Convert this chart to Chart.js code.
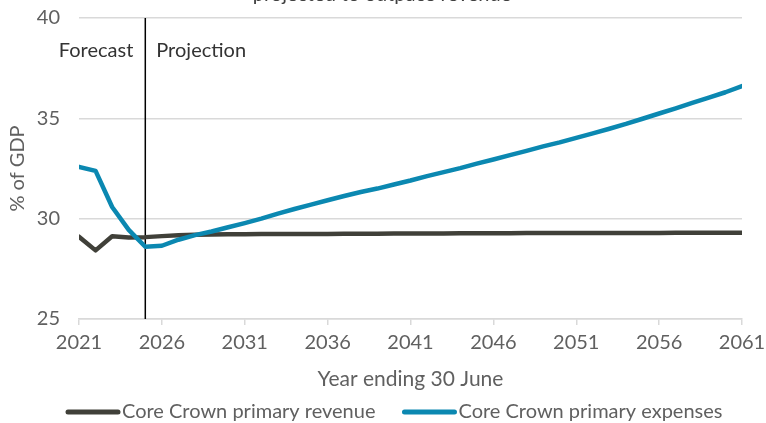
<!DOCTYPE html>
<html>
<head>
<meta charset="utf-8">
<script src="https://cdn.jsdelivr.net/npm/chart.js@4.4.1/dist/chart.umd.min.js"></script>
<style>
  html, body { margin: 0; padding: 0; background: #fff; }
</style>
</head>
<body>
<canvas id="chart" width="766" height="423"></canvas>
<script>
// Year ending 30 June
const years = [
  2021, 2022, 2023, 2024, 2025, 2026, 2027, 2028, 2029, 2030,
  2031, 2032, 2033, 2034, 2035, 2036, 2037, 2038, 2039, 2040,
  2041, 2042, 2043, 2044, 2045, 2046, 2047, 2048, 2049, 2050,
  2051, 2052, 2053, 2054, 2055, 2056, 2057, 2058, 2059, 2060,
  2061
];

// % of GDP
const revenue = [
  29.10, 28.42, 29.12, 29.06, 29.08, 29.13, 29.17, 29.20, 29.21, 29.22,
  29.22, 29.23, 29.23, 29.24, 29.24, 29.24, 29.25, 29.25, 29.25, 29.26,
  29.26, 29.26, 29.26, 29.27, 29.27, 29.27, 29.27, 29.28, 29.28, 29.28,
  29.28, 29.28, 29.29, 29.29, 29.29, 29.29, 29.30, 29.30, 29.30, 29.30,
  29.30
];

const expenses = [
  32.58, 32.38, 30.58, 29.44, 28.60, 28.65, 28.95, 29.18, 29.36, 29.57,
  29.78, 30.00, 30.25, 30.48, 30.70, 30.92, 31.13, 31.33, 31.50, 31.70,
  31.90, 32.12, 32.32, 32.52, 32.74, 32.95, 33.17, 33.38, 33.60, 33.80,
  34.03, 34.25, 34.48, 34.72, 34.98, 35.24, 35.50, 35.77, 36.03, 36.30,
  36.61
];

const xTicks = [2021, 2026, 2031, 2036, 2041, 2046, 2051, 2056, 2061];
const yTicks = [25, 30, 35, 40];
const splitYear = 2025;

const seriesNames = ['Core Crown primary revenue', 'Core Crown primary expenses'];
const seriesColors = ['#404039', '#0b88b1'];

const FONT = 'Lato, "Open Sans", sans-serif';
const GREY = '#606060';

function points(vals) {
  return years.map((yr, i) => ({ x: yr, y: vals[i] }));
}

// forecast/projection divider, cut-off heading and the legend
const extras = {
  id: 'extras',
  beforeDatasetsDraw(chart) {
    const { ctx, chartArea } = chart;
    const x = chart.scales.x.getPixelForValue(splitYear);
    ctx.save();
    ctx.strokeStyle = '#000';
    ctx.lineWidth = 1.5;
    ctx.beginPath();
    ctx.moveTo(x, chartArea.top);
    ctx.lineTo(x, chartArea.bottom);
    ctx.stroke();

    ctx.font = '20px ' + FONT;
    ctx.fillStyle = '#333';
    ctx.textBaseline = 'alphabetic';
    ctx.textAlign = 'right';
    ctx.fillText('Forecast', x - 12, 57);
    ctx.textAlign = 'left';
    ctx.fillText('Projection', x + 11, 57);
    ctx.restore();
  },
  afterDraw(chart) {
    const { ctx } = chart;
    ctx.save();
    ctx.font = '20px ' + FONT;
    ctx.fillStyle = '#404040';
    ctx.textAlign = 'center';
    ctx.textBaseline = 'alphabetic';
    ctx.fillText('projected to outpace revenue', 382, 1);

    ctx.textAlign = 'left';
    ctx.textBaseline = 'middle';
    ctx.fillStyle = GREY;
    let lx = 66;
    const ly = 412;
    seriesNames.forEach((name, i) => {
      ctx.strokeStyle = seriesColors[i];
      ctx.lineWidth = 5;
      ctx.lineCap = 'round';
      ctx.beginPath();
      ctx.moveTo(lx + 2, ly);
      ctx.lineTo(lx + 52, ly);
      ctx.stroke();
      ctx.fillText(name, lx + 56, ly);
      lx += 56 + ctx.measureText(name).width + 27;
    });
    ctx.restore();
  }
};

const ctx = document.getElementById('chart').getContext('2d');
new Chart(ctx, {
  type: 'line',
  data: {
    datasets: [
      {
        label: seriesNames[0],
        data: points(revenue),
        borderColor: seriesColors[0],
        borderWidth: 4.5,
        pointRadius: 0,
        borderJoinStyle: 'round',
        borderCapStyle: 'round',
        order: 1
      },
      {
        label: seriesNames[1],
        data: points(expenses),
        borderColor: seriesColors[1],
        borderWidth: 4.5,
        pointRadius: 0,
        borderJoinStyle: 'round',
        borderCapStyle: 'round',
        order: 0
      }
    ]
  },
  options: {
    responsive: false,
    devicePixelRatio: 1,
    animation: false,
    layout: { padding: { left: 0, right: 24, top: 18, bottom: 29 } },
    plugins: {
      legend: { display: false },
      tooltip: { enabled: false }
    },
    scales: {
      x: {
        type: 'linear',
        min: 2021,
        max: 2061,
        afterBuildTicks: (s) => { s.ticks = xTicks.map(v => ({ value: v })); },
        afterFit: (s) => {
          s.height = 75;
          s.paddingLeft = 0;
          s.paddingRight = 0;
        },
        ticks: {
          callback: (v) => String(v),
          font: { family: FONT, size: 20 },
          color: GREY,
          padding: 6,
          maxRotation: 0
        },
        grid: { drawOnChartArea: false, drawTicks: true, tickLength: 6, color: '#d9d9d9', lineWidth: 1.5 },
        border: { color: '#d9d9d9', width: 1.5 },
        title: {
          display: true,
          text: 'Year ending 30 June',
          font: { family: FONT, size: 21 },
          color: GREY,
          padding: { top: 0, bottom: 2 }
        }
      },
      y: {
        min: 25,
        max: 40,
        afterBuildTicks: (s) => { s.ticks = yTicks.map(v => ({ value: v })); },
        afterFit: (s) => {
          s.width = 79;
          s.paddingTop = 0;
          s.paddingBottom = 0;
        },
        ticks: {
          font: { family: FONT, size: 20 },
          color: GREY,
          padding: 19
        },
        grid: { drawTicks: false, color: '#d9d9d9', lineWidth: 1.5 },
        border: { display: false },
        title: {
          display: true,
          text: '% of GDP',
          font: { family: FONT, size: 20 },
          color: GREY,
          padding: { top: 6 }
        }
      }
    }
  },
  plugins: [extras]
});
</script>
</body>
</html>
